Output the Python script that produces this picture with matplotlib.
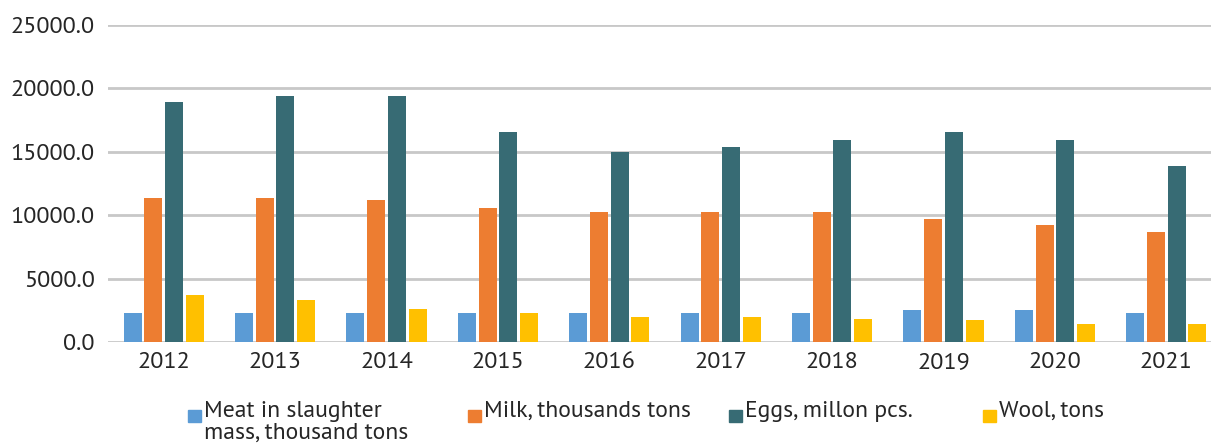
import numpy as np
import matplotlib.pyplot as plt
from matplotlib.patches import Rectangle

plt.rcParams["font.family"] = ["PT Sans", "DejaVu Sans"]

years = ["2012", "2013", "2014", "2015", "2016", "2017", "2018", "2019", "2020", "2021"]
meat = [2300, 2300, 2300, 2250, 2250, 2250, 2250, 2550, 2550, 2250]
milk = [11350, 11350, 11200, 10550, 10250, 10250, 10250, 9700, 9250, 8650]
eggs = [18950, 19400, 19400, 16600, 14950, 15350, 15900, 16600, 15900, 13870]
wool = [3720, 3350, 2600, 2250, 2000, 2000, 1780, 1700, 1400, 1400]

labels = ["Meat in slaughter\nmass, thousand tons", "Milk, thousands tons",
          "Eggs, millon pcs.", "Wool, tons"]
colors = ["#5B9BD5", "#ED7D31", "#376B74", "#FFC000"]
values = [meat, milk, eggs, wool]

W, H = 1211, 446
fig = plt.figure(figsize=(W / 100, H / 100), dpi=100)
ax = fig.add_axes([108 / W, 1 - 342 / H, 1114 / W, 317 / H])

x = np.arange(len(years))
width = 0.162
pitch = 0.186
for i, (vals, color) in enumerate(zip(values, colors)):
    ax.bar(x + (i - 1.5) * pitch, vals, width, color=color, zorder=3)

ax.set_xlim(-0.5, len(years) - 0.5)
ax.set_ylim(0, 25000)
ticks = np.arange(0, 25001, 5000)
ax.set_yticks(ticks)
ax.set_yticklabels([f"{v:.1f}" for v in ticks])
ax.set_xticks(x)
ax.set_xticklabels(years)
ax.grid(axis="y", color="#C8C8C8", lw=2, zorder=0)
for s in ax.spines.values():
    s.set_visible(False)
ax.tick_params(length=0, labelsize=17.5, colors="#262626")
ax.tick_params(axis="y", pad=9.5)
ax.tick_params(axis="x", pad=7)

# legend drawn by hand: square marker sits on first text line
leg_x = [188, 468, 729, 983]
for lx, lab, c in zip(leg_x, labels, colors):
    fig.patches.append(Rectangle((lx / W, 1 - 422 / H), 13 / W, 12 / H,
                                 transform=fig.transFigure, color=c))
    fig.text((lx + 16) / W, 1 - 401 / H, lab, ha="left", va="top",
             fontsize=17, color="#262626", linespacing=1.02)

fig.savefig("out.png", dpi=100)
